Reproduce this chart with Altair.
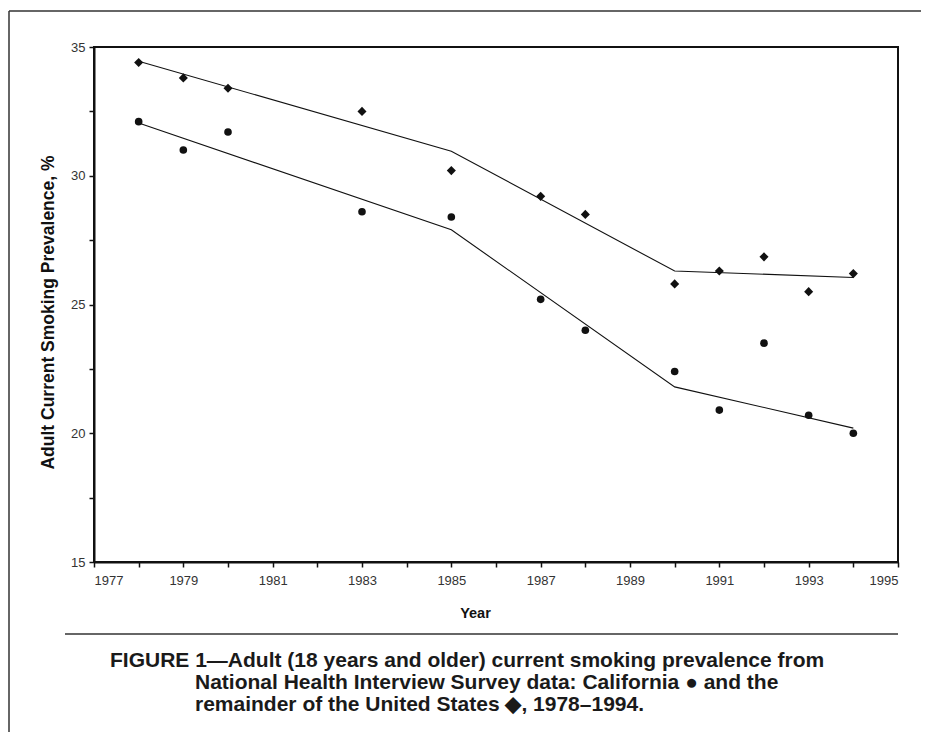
import altair as alt
import pandas as pd

# ---- data ----
years = [1978, 1979, 1980, 1983, 1985, 1987, 1988, 1990, 1991, 1992, 1993, 1994]
california = [32.1, 31.0, 31.7, 28.6, 28.4, 25.2, 24.0, 22.4, 20.9, 23.5, 20.7, 20.0]
rest_of_us = [34.4, 33.8, 33.4, 32.5, 30.2, 29.2, 28.5, 25.8, 26.3, 26.85, 25.5, 26.2]

trend_years = [1978, 1985, 1990, 1994]
california_trend = [32.05, 27.9, 21.8, 20.2]
rest_of_us_trend = [34.45, 30.95, 26.3, 26.05]

x_ticks = list(range(1977, 1996))
y_ticks = [15, 17.5, 20, 22.5, 25, 27.5, 30, 32.5, 35]

caption_lines = [
    "FIGURE 1\u2014Adult (18 years and older) current smoking prevalence from",
    "National Health Interview Survey data: California \u25cf and the",
    "remainder of the United States \u25c6, 1978\u20131994.",
]

FONT = "Liberation Sans"
INK = "#111111"

pts = pd.DataFrame({
    "year": years * 2,
    "value": california + rest_of_us,
    "series": ["California"] * len(years) + ["Rest of US"] * len(years),
})
trend = pd.DataFrame({
    "year": trend_years * 2,
    "value": california_trend + rest_of_us_trend,
    "series": ["California"] * len(trend_years) + ["Rest of US"] * len(trend_years),
})

x_enc = alt.X(
    "year:Q",
    scale=alt.Scale(domain=[1977, 1995], nice=False, zero=False),
    axis=alt.Axis(
        values=x_ticks,
        format="d",
        labelExpr="datum.value % 2 == 1 ? datum.label : ''",
        grid=False,
        tickSize=5,
        tickWidth=1.5,
        tickColor=INK,
        domainColor=INK,
        domainWidth=2,
        labelFont=FONT,
        labelFontSize=13,
        labelColor="#333333",
        labelPadding=7,
        title="Year",
        titleFont=FONT,
        titleFontSize=14.5,
        titleFontWeight="bold",
        titleColor=INK,
        titleX=381,
        titleY=51,
        titleBaseline="middle",
    ),
)
y_enc = alt.Y(
    "value:Q",
    scale=alt.Scale(domain=[15, 35], nice=False, zero=False),
    axis=alt.Axis(
        values=y_ticks,
        labelExpr="datum.value % 5 == 0 ? datum.label : ''",
        grid=False,
        tickSize=5,
        tickWidth=1.5,
        tickColor=INK,
        domainColor=INK,
        domainWidth=2,
        labelFont=FONT,
        labelFontSize=13,
        labelColor="#333333",
        labelPadding=4,
        title="Adult Current Smoking Prevalence, %",
        titleFont=FONT,
        titleFontSize=17.5,
        titleFontWeight="bold",
        titleColor=INK,
        titleAngle=-90,
        titleX=-46,
        titleY=265,
        titleAlign="center",
        titleBaseline="middle",
    ),
)

lines = alt.Chart(trend).mark_line(color=INK, strokeWidth=1.1).encode(
    x=x_enc, y=y_enc, detail="series:N"
)
circles = alt.Chart(pts).transform_filter(
    alt.datum.series == "California"
).mark_circle(size=58, color=INK, opacity=1).encode(x=x_enc, y=y_enc)
diamonds = alt.Chart(pts).transform_filter(
    alt.datum.series == "Rest of US"
).mark_point(shape="diamond", filled=True, size=82, color=INK, opacity=1).encode(
    x=x_enc, y=y_enc
)

one = pd.DataFrame({"a": [0]})
frame_top = alt.Chart(one).mark_rule(color="#333333", strokeWidth=1.5).encode(
    x=alt.value(-85), x2=alt.value(840), y=alt.value(-36)
)
frame_left = alt.Chart(one).mark_rule(color="#333333", strokeWidth=1.5).encode(
    x=alt.value(-85), y=alt.value(-36), y2=alt.value(720)
)
sep_rule = alt.Chart(one).mark_rule(color="#333333", strokeWidth=1.5).encode(
    x=alt.value(-29), x2=alt.value(804), y=alt.value(587)
)

cap_layers = []
cap_pos = [(16, 614), (101, 636), (101, 658)]
for text, (cx, cy) in zip(caption_lines, cap_pos):
    cap_layers.append(
        alt.Chart(one).mark_text(
            text=text, align="left", baseline="middle", font=FONT,
            fontSize=21, fontWeight="bold", color="#1a1a1a",
        ).encode(x=alt.value(cx), y=alt.value(cy))
    )

chart = alt.layer(
    frame_top, frame_left, sep_rule, lines, circles, diamonds, *cap_layers
).properties(
    width=804,
    height=515,
    autosize=alt.AutoSizeParams(type="none"),
    padding={"left": 86, "top": 39, "right": 23, "bottom": 170},
    background="white",
).configure_view(stroke=INK, strokeWidth=2)

chart.save("out.html", embed_options={"renderer": "svg", "actions": False})
